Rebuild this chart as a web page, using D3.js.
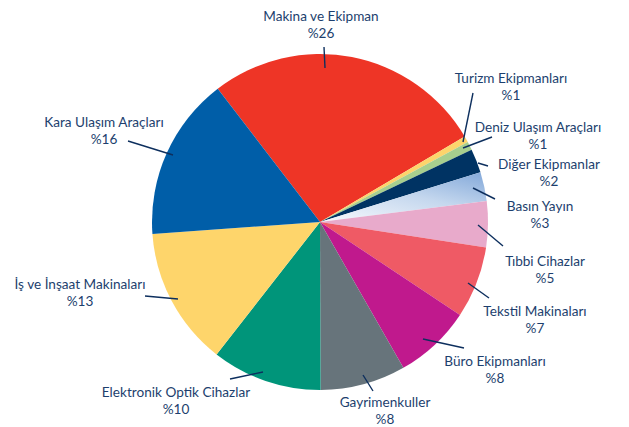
<!DOCTYPE html>
<html>
<head>
<meta charset="utf-8">
<script src="https://cdn.jsdelivr.net/npm/d3@7"></script>
<style>
  html, body { margin: 0; padding: 0; background: #fff; }
  svg { display: block; }
  text { font-family: "Lato", "Open Sans", sans-serif; fill: #1d3f6e; }
</style>
</head>
<body>
<svg id="chart" width="629" height="427"></svg>
<script>
// ---- data ----
const categories = [
  "Makina ve Ekipman", "Turizm Ekipmanları", "Deniz Ulaşım Araçları",
  "Diğer Ekipmanlar", "Basın Yayın", "Tıbbi Cihazlar", "Tekstil Makinaları",
  "Büro Ekipmanları", "Gayrimenkuller", "Elektronik Optik Cihazlar",
  "İş ve İnşaat Makinaları", "Kara Ulaşım Araçları"
];
// slice sizes (percent)
const values = [26.9, 0.6, 0.8, 2.3, 2.8, 4.4, 6.9, 7.4, 8.2, 10.6, 13.3, 15.7];
// printed percentage labels
const percentLabels = ["%26", "%1", "%1", "%2", "%3", "%5", "%7", "%8", "%8", "%10", "%13", "%16"];

// ---- styles / layout ----
const colors = ["#ee3526", "#fdd46c", "#a7cf8e", "#003363", "url(#basinGrad)", "#e8aacb",
                "#ef5a65", "#c0198d", "#67747b", "#00957a", "#fed56b", "#005ea8"];
// label centre x, first baseline y, leader line [x1,y1,x2,y2]
const labelLayout = [
  {x: 321, y: 21,  l: [324, 47, 325, 68]},
  {x: 511, y: 83,  l: [473, 93, 463, 142]},
  {x: 538, y: 132, l: [492, 137, 463, 148]},
  {x: 549, y: 169, l: [488, 166, 478, 163]},
  {x: 540, y: 211, l: [495, 199, 473, 188]},
  {x: 545, y: 266, l: [503, 246, 478, 225]},
  {x: 535, y: 316, l: [489, 298, 468, 283]},
  {x: 495, y: 366, l: [464, 348, 423, 339]},
  {x: 385, y: 407, l: [373, 391, 363, 375]},
  {x: 176, y: 397, l: [230, 379, 263, 372]},
  {x: 80,  y: 289, l: [145, 296, 178, 299]},
  {x: 104, y: 127, l: [128, 141, 173, 155]}
];
const fontSize = 13.6, lineGap = 16.5;

const cx = 320, cy = 222, radius = 168;
const startDeg = -37.5;

const svg = d3.select("#chart");
const defs = svg.append("defs");
const grad = defs.append("linearGradient")
  .attr("id", "basinGrad")
  .attr("x1", "0.1").attr("y1", "1").attr("x2", "0.9").attr("y2", "0");
grad.append("stop").attr("offset", "0").attr("stop-color", "#f4f7fc");
grad.append("stop").attr("offset", "0.55").attr("stop-color", "#c4d7ee");
grad.append("stop").attr("offset", "1").attr("stop-color", "#88acdb");

const data = categories.map((c, i) => ({name: c, value: values[i], pct: percentLabels[i], i}));

const start = startDeg * Math.PI / 180;
const pie = d3.pie().sort(null).value(d => d.value)
  .startAngle(start).endAngle(start + 2 * Math.PI);
const arc = d3.arc().innerRadius(0).outerRadius(radius);

const g = svg.append("g").attr("transform", `translate(${cx},${cy})`);
g.selectAll("path.slice").data(pie(data)).join("path")
  .attr("class", "slice")
  .attr("d", arc)
  .attr("fill", d => colors[d.data.i]);

// leader lines
svg.selectAll("line.leader").data(data).join("line")
  .attr("class", "leader")
  .attr("x1", d => labelLayout[d.i].l[0])
  .attr("y1", d => labelLayout[d.i].l[1])
  .attr("x2", d => labelLayout[d.i].l[2])
  .attr("y2", d => labelLayout[d.i].l[3])
  .attr("stroke", "#0d2f5e")
  .attr("stroke-width", 1.4);

// labels: name line and percentage line as separate texts
svg.selectAll("text.name").data(data).join("text")
  .attr("class", "name")
  .attr("text-anchor", "middle")
  .attr("font-size", fontSize)
  .attr("x", d => labelLayout[d.i].x)
  .attr("y", d => labelLayout[d.i].y)
  .text(d => d.name);
svg.selectAll("text.pct").data(data).join("text")
  .attr("class", "pct")
  .attr("text-anchor", "middle")
  .attr("font-size", fontSize)
  .attr("x", d => labelLayout[d.i].x)
  .attr("y", d => labelLayout[d.i].y + lineGap)
  .text(d => d.pct);
</script>
</body>
</html>
